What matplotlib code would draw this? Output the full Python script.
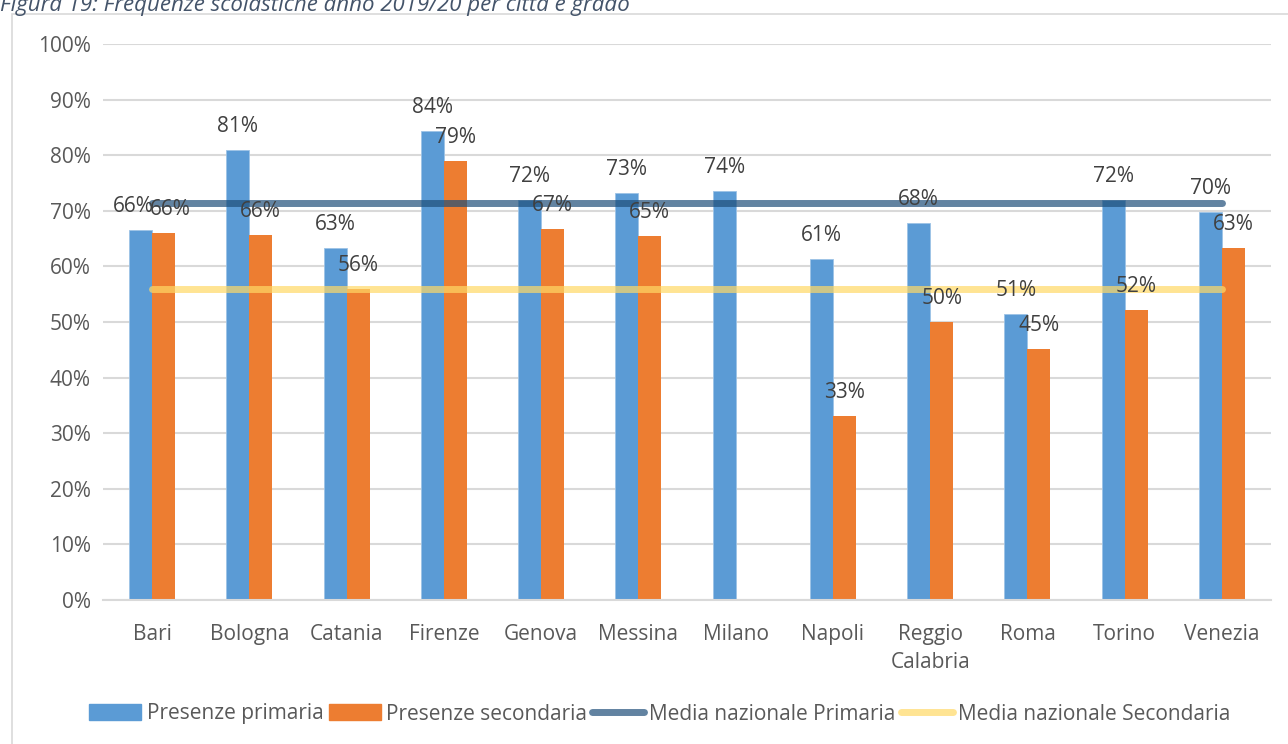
import matplotlib.pyplot as plt
import numpy as np
from matplotlib.patches import Rectangle, Patch
from matplotlib.lines import Line2D
from matplotlib.ticker import PercentFormatter

plt.rcParams['font.family'] = ['Open Sans', 'DejaVu Sans']

citta = ['Bari', 'Bologna', 'Catania', 'Firenze', 'Genova', 'Messina', 'Milano',
         'Napoli', 'Reggio\nCalabria', 'Roma', 'Torino', 'Venezia']
primaria = [0.665, 0.809, 0.633, 0.844, 0.719, 0.732, 0.735, 0.613, 0.678, 0.514, 0.719, 0.698]
secondaria = [0.660, 0.656, 0.559, 0.790, 0.667, 0.654, np.nan, 0.331, 0.500, 0.451, 0.522, 0.633]
media_primaria = [0.714] * 12
media_secondaria = [0.559] * 12

c_prim = '#5B9BD5'
c_sec = '#ED7D31'
c_grey = '#595959'

fig = plt.figure(figsize=(12.88, 7.44), dpi=100)
ax = fig.add_axes([0.0803, 0.1935, 0.9062, 0.7474])

# cornice del grafico e titolo tagliato in alto
fig.patches.append(Rectangle((12 / 1288, -0.01), 1.0, 1 - 14 / 744 + 0.01, transform=fig.transFigure,
                             fill=False, edgecolor='#D9D9D9', lw=1.2))
fig.text(0.0, 1 - 11 / 744, 'Figura 19: Frequenze scolastiche anno 2019/20 per città e grado',
         style='italic', color='#44546A', fontsize=16, va='baseline', ha='left')

x = np.arange(len(citta))
w = 0.236
ax.bar(x - w / 2, primaria, w, color=c_prim, edgecolor='#9DC3E6', lw=0.6, zorder=2)
ax.bar(x + w / 2, secondaria, w, color=c_sec, zorder=2)
ax.plot(x, media_primaria, color='#1F4E79', alpha=0.7, lw=5, solid_capstyle='round', zorder=3)
ax.plot(x, media_secondaria, color='#FFD966', alpha=0.7, lw=5, solid_capstyle='round', zorder=3)

# etichette: Bari ha valori quasi uguali, le allargo un po'
nudge = {0: (-5, 5)}
for i in range(len(citta)):
    n = nudge.get(i, (0, 0))
    for v, dx, nx in ((primaria[i], -w / 2, n[0]), (secondaria[i], w / 2, n[1])):
        if np.isnan(v):
            continue
        ax.annotate(f'{v * 100:.0f}%', (x[i] + dx, v), xytext=(nx, 17), textcoords='offset points',
                    ha='center', va='center', fontsize=15, color='#404040', zorder=4)

ax.set_xlim(-0.5, len(citta) - 0.5)
ax.set_ylim(0, 1)
ax.set_yticks(np.arange(0, 1.01, 0.1))
ax.yaxis.set_major_formatter(PercentFormatter(1.0, decimals=0))
ax.set_xticks(x)
ax.set_xticklabels(citta, linespacing=1.45)
ax.tick_params(length=0, labelsize=15, labelcolor=c_grey)
ax.tick_params(axis='y', pad=9)
ax.tick_params(axis='x', pad=17)
ax.grid(axis='y', color='#D9D9D9', lw=1.5, zorder=0)
ax.set_axisbelow(True)
for s in ['top', 'right', 'left']:
    ax.spines[s].set_visible(False)
ax.spines['bottom'].set_color('#D9D9D9')
ax.spines['bottom'].set_linewidth(1.5)

handles = [Patch(color=c_prim), Patch(color=c_sec),
           Line2D([], [], color='#1F4E79', alpha=0.7, lw=5, solid_capstyle='round'),
           Line2D([], [], color='#FFD966', alpha=0.7, lw=5, solid_capstyle='round')]
labels = ['Presenze primaria', 'Presenze secondaria', 'Media nazionale Primaria', 'Media nazionale Secondaria']
fig.legend(handles, labels, loc='center', bbox_to_anchor=(0.5124, 1 - 714 / 744), ncol=4, frameon=False,
           fontsize=15, labelcolor=c_grey, handlelength=2.5, handleheight=0.8, handletextpad=0.25,
           columnspacing=0.25)

fig.savefig('out.png', dpi=100)
